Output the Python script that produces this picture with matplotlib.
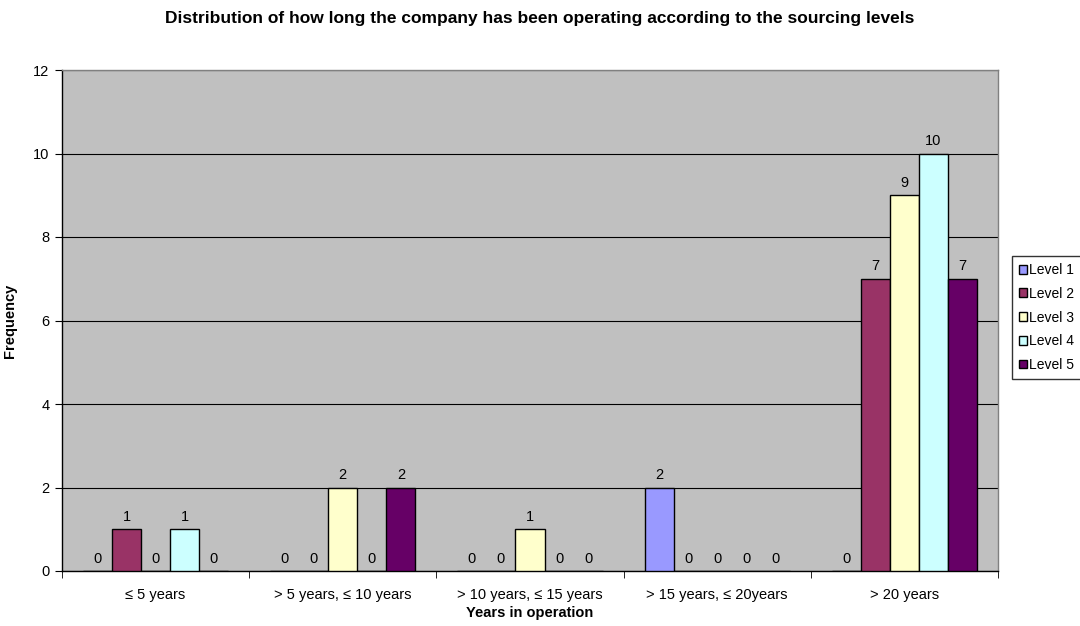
import matplotlib
matplotlib.use("Agg")
import matplotlib.pyplot as plt
import numpy as np

plt.rcParams['font.family'] = ['Liberation Sans', 'DejaVu Sans']

categories = ["≤ 5 years", "> 5 years, ≤ 10 years", "> 10 years, ≤ 15 years",
              "> 15 years, ≤ 20years", "> 20 years"]
series_names = ["Level 1", "Level 2", "Level 3", "Level 4", "Level 5"]
level1 = [0, 0, 0, 2, 0]
level2 = [1, 0, 0, 0, 7]
level3 = [0, 2, 1, 0, 9]
level4 = [1, 0, 0, 0, 10]
level5 = [0, 2, 0, 0, 7]
series = [level1, level2, level3, level4, level5]
colors = ["#9999FF", "#993366", "#FFFFCC", "#CCFFFF", "#660066"]
yticks = [0, 2, 4, 6, 8, 10, 12]

fs = 10.5

fig = plt.figure(figsize=(10.8, 6.26), dpi=100)
ax = fig.add_axes([62/1080, 1-571/626, (998-62)/1080, (571-70)/626])
ax.set_facecolor("#C0C0C0")

x = np.arange(len(categories))
w = 0.155
for i, (vals, col, name) in enumerate(zip(series, colors, series_names)):
    pos = x + (i - 2) * w
    ax.bar(pos, vals, width=w, color=col, edgecolor="black",
           linewidth=1.0, label=name, zorder=3)
    for xp, v in zip(pos, vals):
        ax.text(xp, v + 0.13, str(v), ha="center", va="bottom", fontsize=fs, zorder=4)

ax.set_xlim(-0.5, len(categories) - 0.5)
ax.set_ylim(0, 12)
ax.set_yticks(yticks)
ax.set_yticklabels([str(t) for t in yticks], fontsize=fs)
ax.yaxis.grid(True, color="black", linewidth=0.8, zorder=1)
ax.set_axisbelow(True)

ax.set_xticks(x)
ax.set_xticklabels(categories, fontsize=fs)
ax.tick_params(axis="x", length=0, pad=12)
ax.set_xticks(np.arange(-0.5, len(categories), 1.0), minor=True)
ax.tick_params(axis="x", which="minor", length=5, direction="out", color="black")
ax.tick_params(axis="y", length=5, direction="out", color="black", pad=4)

for side in ["top", "right"]:
    ax.spines[side].set_color("#808080")
    ax.spines[side].set_linewidth(1.0)
for side in ["left", "bottom"]:
    ax.spines[side].set_color("black")
    ax.spines[side].set_linewidth(1.0)

ax.set_xlabel("Years in operation", fontsize=fs, fontweight="bold", labelpad=3)
ax.set_ylabel("Frequency", fontsize=fs, fontweight="bold", labelpad=14)
ax.yaxis.set_label_coords(-(62 - 17) / 936, 0.5)
fig.text(0.5, 1 - 19/626, "Distribution of how long the company has been operating according to the sourcing levels",
         ha="center", va="center", fontsize=12.5, fontweight="bold")

leg = fig.legend(loc="center left", bbox_to_anchor=(1012/1080, 1 - 317.5/626),
                 fontsize=10, frameon=True, fancybox=False, edgecolor="black",
                 handlelength=0.6, handleheight=0.6, handletextpad=0.15,
                 borderpad=0.5, labelspacing=0.7, borderaxespad=0)
leg.get_frame().set_linewidth(1.0)

fig.savefig("out.png", dpi=100)
